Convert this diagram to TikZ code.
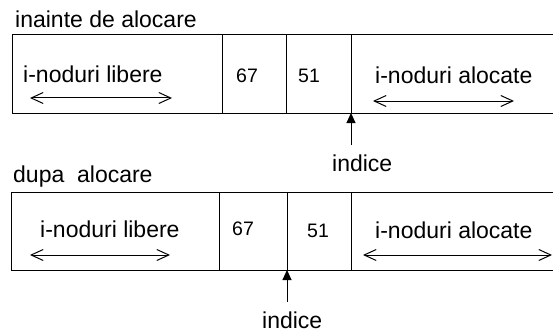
\documentclass[tikz,border=0pt]{standalone}
\usepackage{fontspec}
\setmainfont{Liberation Sans}
\usetikzlibrary{arrows.meta}
\begin{document}
\begin{tikzpicture}[x=1pt,y=-1pt,
  lbl/.style={anchor=base west,inner sep=0pt,font=\fontsize{23}{27}\selectfont},
  num/.style={anchor=base west,inner sep=0pt,font=\fontsize{19.5}{23}\selectfont},
  boxline/.style={line width=1pt},
  dbl/.style={line width=1pt,{Straight Barb[length=12pt,width=11pt]}-{Straight Barb[length=12pt,width=11pt]}},
  ptr/.style={line width=1pt,-{Triangle[length=10pt,width=9pt]}}]
\useasboundingbox (0,0) rectangle (553,334);
% ---------- before allocation ----------
\node[lbl] (t1) at (15,28) {inainte de alocare};
\coordinate (a1) at (12,35);
\coordinate (a2) at (554,35);
\coordinate (a3) at (554,113);
\coordinate (a4) at (12,113);
\draw[boxline] (a2) -- (a1) -- (a4) -- (a3);
\draw[boxline] (222,35) -- (222,113);
\draw[boxline] (286,35) -- (286,113);
\draw[boxline] (351,35) -- (351,113);
\node[lbl] (lib1) at (23,83) {i-noduri libere};
\node[num] (n67a) at (236,83) {67};
\node[num] (n51a) at (298,83) {51};
\node[lbl] (alo1) at (375,84) {i-noduri alocate};
\coordinate (la1) at (30,98);
\coordinate (lb1) at (172,98);
\draw[dbl] (la1) -- (lb1);
\coordinate (ra1) at (373,101);
\coordinate (rb1) at (514,101);
\draw[dbl] (ra1) -- (rb1);
\coordinate (p1s) at (351,145);
\coordinate (p1e) at (351,113);
\draw[ptr] (p1s) -- (p1e);
\node[lbl] (ind1) at (332,171) {indice};
% ---------- after allocation ----------
\node[lbl] (t2) at (13,182) {dupa\ \ alocare};
\coordinate (b1) at (11,192);
\coordinate (b2) at (554,192);
\coordinate (b3) at (554,270);
\coordinate (b4) at (11,270);
\draw[boxline] (b2) -- (b1) -- (b4) -- (b3);
\draw[boxline] (219,192) -- (219,270);
\draw[boxline] (287,192) -- (287,270);
\draw[boxline] (351,192) -- (351,270);
\node[lbl] (lib2) at (40,237) {i-noduri libere};
\node[num] (n67b) at (232,235) {67};
\node[num] (n51b) at (307,237) {51};
\node[lbl] (alo2) at (375,238) {i-noduri alocate};
\coordinate (la2) at (30,255);
\coordinate (lb2) at (170,255);
\draw[dbl] (la2) -- (lb2);
\coordinate (ra2) at (363,255);
\coordinate (rb2) at (552,255);
\draw[dbl] (ra2) -- (rb2);
\coordinate (p2s) at (287,302);
\coordinate (p2e) at (287,270);
\draw[ptr] (p2s) -- (p2e);
\node[lbl] (ind2) at (262,328) {indice};
\end{tikzpicture}
\end{document}
